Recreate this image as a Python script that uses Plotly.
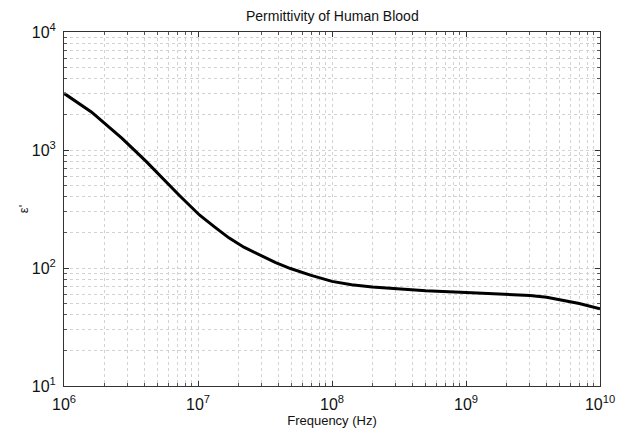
import plotly.graph_objects as go

freq_hz = [1e6, 1.6e6, 2.7e6, 4.1e6, 7.3e6, 1.03e7, 1.35e7, 1.7e7, 2.2e7, 2.9e7, 3.8e7, 4.9e7, 6.9e7,
           1e8, 1.4e8, 2e8, 3e8, 5e8, 1e9, 2e9, 3e9, 4e9, 5e9, 7e9, 1e10]
eps_real = [3020, 2100, 1260, 800, 410, 280, 220, 180, 150, 129, 111, 99, 87,
            77, 72, 69, 66.5, 64, 62, 60, 58.5, 56.5, 54, 50, 45]

x_tick_vals = [1e6, 1e7, 1e8, 1e9, 1e10]
x_tick_text = ["10<sup>6</sup>", "10<sup>7</sup>", "10<sup>8</sup>", "10<sup>9</sup>", "10<sup>10</sup>"]
y_tick_vals = [1e1, 1e2, 1e3, 1e4]
y_tick_text = ["10<sup>1</sup>", "10<sup>2</sup>", "10<sup>3</sup>", "10<sup>4</sup>"]

title_text = "Permittivity of Human Blood"
x_label = "Frequency (Hz)"
y_label = "ε'"


def minor_positions(decades):
    return [m * d for d in decades[:-1] for m in range(2, 10)]


x_minor = minor_positions(x_tick_vals)
y_minor = minor_positions(y_tick_vals)

fig = go.Figure()
fig.add_trace(go.Scatter(x=freq_hz, y=eps_real, mode="lines",
                         line=dict(color="black", width=3),
                         showlegend=False))

grid_color = "#d2d2d2"
axis_common = dict(
    type="log", showline=True, linecolor="#333",
    linewidth=1, mirror="ticks", ticks="inside", ticklen=5, tickcolor="#333",
    showgrid=True, gridcolor=grid_color, griddash="dot", gridwidth=1,
    zeroline=False, automargin=False,
    tickfont=dict(family="Liberation Sans, Arial", size=16, color="#111"),
)
minor_common = dict(tickmode="array", ticks="inside", ticklen=3, tickcolor="#555", showgrid=True,
                    gridcolor=grid_color, griddash="dot", gridwidth=1)

fig.update_xaxes(range=[6, 10], tickmode="array", tickvals=x_tick_vals, ticktext=x_tick_text,
                 ticklabelstandoff=4, minor=dict(tickvals=x_minor, **minor_common),
                 title=dict(text=x_label, font=dict(size=13, color="#111"), standoff=1), **axis_common)
fig.update_yaxes(range=[1, 4], tickmode="array", tickvals=y_tick_vals, ticktext=y_tick_text,
                 ticklabelstandoff=4, minor=dict(tickvals=y_minor, **minor_common),
                 title=dict(text=y_label, font=dict(size=13, color="#111"), standoff=0), **axis_common)

fig.update_layout(
    width=627, height=434,
    margin=dict(l=64, r=27, t=32, b=48),
    paper_bgcolor="white", plot_bgcolor="white",
    font=dict(family="Liberation Sans, Arial", color="#111"),
    title=dict(text=title_text, x=0.53, xanchor="center", y=0.962, yanchor="middle",
               font=dict(size=14, color="#111")),
)

fig.write_html("out.html", config={"displayModeBar": False},
               post_script="document.body.style.margin='0';")
